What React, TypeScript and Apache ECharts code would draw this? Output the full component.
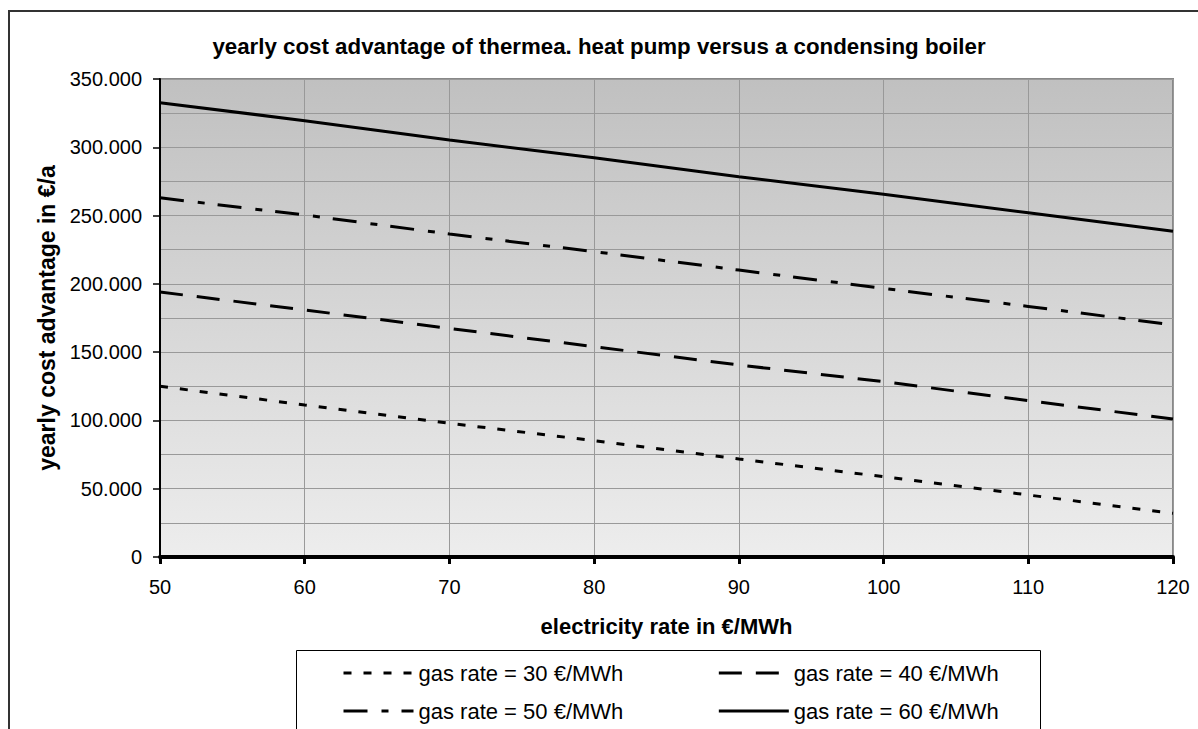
import React, { useEffect, useRef } from 'react';
import * as echarts from 'echarts';

const electricityRates = [50, 60, 70, 80, 90, 100, 110, 120];
const gas30 = [125000, 111300, 97900, 85200, 71800, 58800, 45400, 32000];
const gas40 = [194000, 180900, 167400, 154000, 140600, 128400, 114500, 101000];
const gas50 = [263000, 250400, 236500, 223600, 210100, 196700, 183500, 170000];
const gas60 = [332600, 319500, 305300, 292400, 278500, 265600, 252100, 238600];
const seriesNames = ['gas rate = 30 €/MWh', 'gas rate = 40 €/MWh', 'gas rate = 50 €/MWh', 'gas rate = 60 €/MWh'];
const titleText = 'yearly cost advantage of thermea. heat pump versus a condensing boiler';
const xName = 'electricity rate in €/MWh';
const yName = 'yearly cost advantage in €/a';

const FONT = '"Liberation Sans", Arial, sans-serif';

function pairs(vals: number[]) {
  return electricityRates.map((x, i) => [x, vals[i]]);
}

function fmt(v: number) {
  return String(v).replace(/\B(?=(\d{3})+(?!\d))/g, '.');
}

export default function App() {
  const ref = useRef<HTMLDivElement>(null);
  useEffect(() => {
    document.body.style.margin = '0';
    const chart = echarts.init(ref.current!, null, { renderer: 'svg' });
    const lineBase = { type: 'line', symbol: 'none', showSymbol: false, z: 5 };
    const dashes: any[] = [[8, 12], [23, 14], [24, 14, 7, 13], 'solid'];
    const datasets = [gas30, gas40, gas50, gas60];
    const legendCommon = {
      left: 337,
      itemWidth: 70,
      itemHeight: 14,
      itemGap: 94,
      itemStyle: { opacity: 0 },
      lineStyle: { width: 3 },
      textStyle: { fontSize: 22, color: '#000', fontFamily: FONT },
    };
    chart.setOption({
      animation: false,
      title: {
        text: titleText,
        left: 'center',
        top: 30,
        textStyle: { fontSize: 22.3, fontWeight: 'bold', color: '#000', fontFamily: FONT },
      },
      grid: {
        left: 160,
        top: 79,
        right: 25,
        bottom: 172,
        show: true,
        borderColor: '#888',
        borderWidth: 2,
        backgroundColor: new echarts.graphic.LinearGradient(0, 0, 0, 1, [
          { offset: 0, color: '#c0c0c0' },
          { offset: 1, color: '#ededed' },
        ]),
      },
      xAxis: {
        type: 'value',
        min: 50,
        max: 120,
        interval: 10,
        name: xName,
        nameLocation: 'middle',
        nameGap: 58,
        nameTextStyle: { fontSize: 22, fontWeight: 'bold', color: '#000', fontFamily: FONT },
        axisLine: { show: true, lineStyle: { color: '#000', width: 4 } },
        axisTick: { show: true, length: 7, lineStyle: { color: '#000', width: 3 } },
        axisLabel: { fontSize: 20, color: '#000', fontFamily: FONT, margin: 20 },
        splitLine: { show: true, lineStyle: { color: '#999', width: 1 } },
      },
      yAxis: {
        type: 'value',
        min: 0,
        max: 350000,
        interval: 50000,
        name: yName,
        nameLocation: 'middle',
        nameGap: 100,
        nameTextStyle: { fontSize: 23, fontWeight: 'bold', color: '#000', fontFamily: FONT },
        axisLine: { show: true, lineStyle: { color: '#000', width: 2 } },
        axisTick: { show: true, length: 7, lineStyle: { color: '#000', width: 1.5 } },
        axisLabel: { fontSize: 20, color: '#000', fontFamily: FONT, margin: 18, formatter: (v: number) => fmt(v) },
        splitLine: { show: true, lineStyle: { color: '#999', width: 1 } },
        minorTick: { show: false, splitNumber: 2 },
        minorSplitLine: { show: true, lineStyle: { color: '#999', width: 1 } },
      },
      legend: [
        { ...legendCommon, data: [seriesNames[0], seriesNames[1]], top: 657 },
        { ...legendCommon, data: [seriesNames[2], seriesNames[3]], top: 695 },
      ],
      graphic: [
        {
          type: 'rect',
          shape: { x: 9, y: 11, width: 1300, height: 900 },
          style: { fill: 'none', stroke: '#333', lineWidth: 2 },
          silent: true,
        },
        {
          type: 'rect',
          shape: { x: 296.5, y: 650.5, width: 744, height: 200 },
          style: { fill: '#fff', stroke: '#000', lineWidth: 1 },
          silent: true,
          z: -1,
        },
      ],
      series: datasets.map((d, i) => ({
        ...lineBase,
        name: seriesNames[i],
        data: pairs(d),
        lineStyle: { color: '#000', width: 3, type: dashes[i], cap: 'butt' },
        itemStyle: { color: '#000' },
      })),
    });
    return () => chart.dispose();
  }, []);
  return <div ref={ref} style={{ width: 1198, height: 729, overflow: 'hidden' }} />;
}
